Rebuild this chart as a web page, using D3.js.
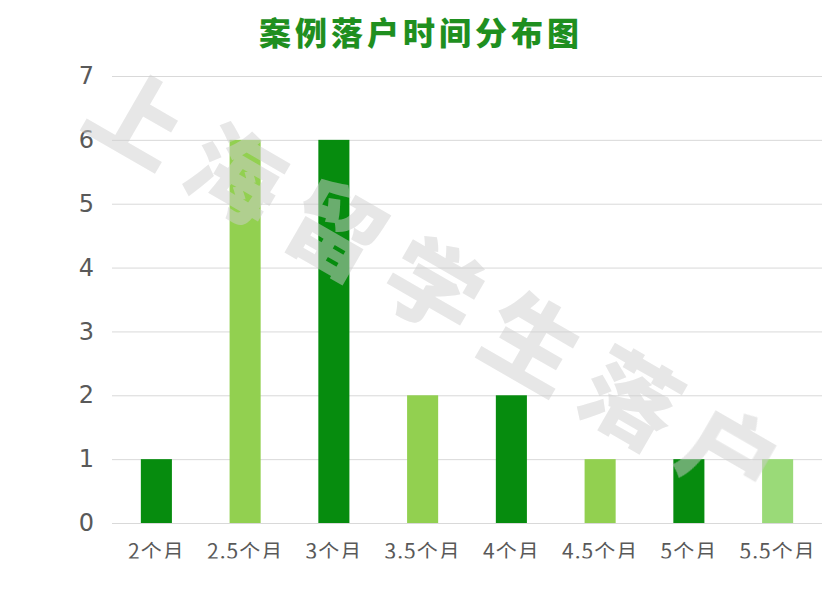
<!DOCTYPE html>
<html><head><meta charset="utf-8">
<script src="https://cdn.jsdelivr.net/npm/d3@7"></script>
<style>body{margin:0;background:#fff}svg{display:block}</style>
</head><body>
<script>
const categories = ["2个月","2.5个月","3个月","3.5个月","4个月","4.5个月","5个月","5.5个月"];
const values = [1,6,6,2,2,1,1,1];
const barColors = ["#068c0e","#92d050","#068c0e","#92d050","#068c0e","#92d050","#068c0e","#9ada78"];
const yTicks = [0,1,2,3,4,5,6,7];
const title = "案例落户时间分布图";
const watermark = "上海留学生落户";

const W = 840, H = 595;
const m = {left:112, right:18, top:76, bottom:72};
const svg = d3.select("body").append("svg").attr("width",W).attr("height",H);

const x = d3.scaleBand().domain(categories).range([m.left, W-m.right]).paddingInner(0.65).paddingOuter(0.325);
const y = d3.scaleLinear().domain([0,7]).range([H-m.bottom, m.top]);

// title
svg.append("text").attr("x",421).attr("y",45).attr("text-anchor","middle")
  .attr("font-family","'Noto Sans CJK SC'").attr("font-weight",900).attr("font-size",32)
  .attr("letter-spacing",4).attr("fill","#1f8f1f").text(title);

// gridlines
const yAxis = d3.axisLeft(y).tickValues(yTicks).tickSize(-(W-m.left-m.right)).tickPadding(16).tickFormat(d3.format("d"));
const ga = svg.append("g").attr("transform",`translate(${m.left},0)`).call(yAxis);
ga.select(".domain").remove();
ga.selectAll(".tick line").attr("stroke","#d9d9d9").attr("stroke-width",1);
ga.selectAll(".tick text").attr("font-family","'DejaVu Sans'").attr("font-size",24).attr("fill","#595959").attr("x",-18);

// bars
svg.append("g").selectAll("rect").data(values).join("rect")
  .attr("x",(d,i)=>x(categories[i])).attr("width",x.bandwidth())
  .attr("y",d=>y(d)).attr("height",d=>y(0)-y(d))
  .attr("fill",(d,i)=>barColors[i]);

// x labels (clipped at bottom as in reference)
svg.append("defs").append("clipPath").attr("id","xclip").append("rect")
  .attr("x",0).attr("y",530).attr("width",W).attr("height",28.5);
const clipG = svg.append("g").attr("clip-path","url(#xclip)");
const xAxis = d3.axisBottom(x).tickSize(0).tickPadding(0);
const gx = clipG.append("g").attr("transform",`translate(0,${H-m.bottom})`).call(xAxis);
gx.select(".domain").remove();
gx.selectAll(".tick text").attr("font-family","'Noto Sans CJK SC'").attr("font-size",21)
  .attr("letter-spacing",1).attr("fill","#595959").attr("dy",null).attr("y",36);

// watermark
const wm = svg.append("g").attr("opacity",0.5);
const start = [140,113], step = [98.8,56.2];
watermark.split("").forEach((ch,i)=>{
  const cx = start[0]+step[0]*i, cy = start[1]+step[1]*i;
  wm.append("text").attr("transform",`translate(${cx},${cy}) rotate(30)`)
    .attr("text-anchor","middle").attr("dominant-baseline","central")
    .attr("font-family","'Noto Sans CJK SC'").attr("font-weight",900).attr("font-size",94)
    .attr("fill","#cfcfcf").text(ch);
});
</script>
</body></html>
